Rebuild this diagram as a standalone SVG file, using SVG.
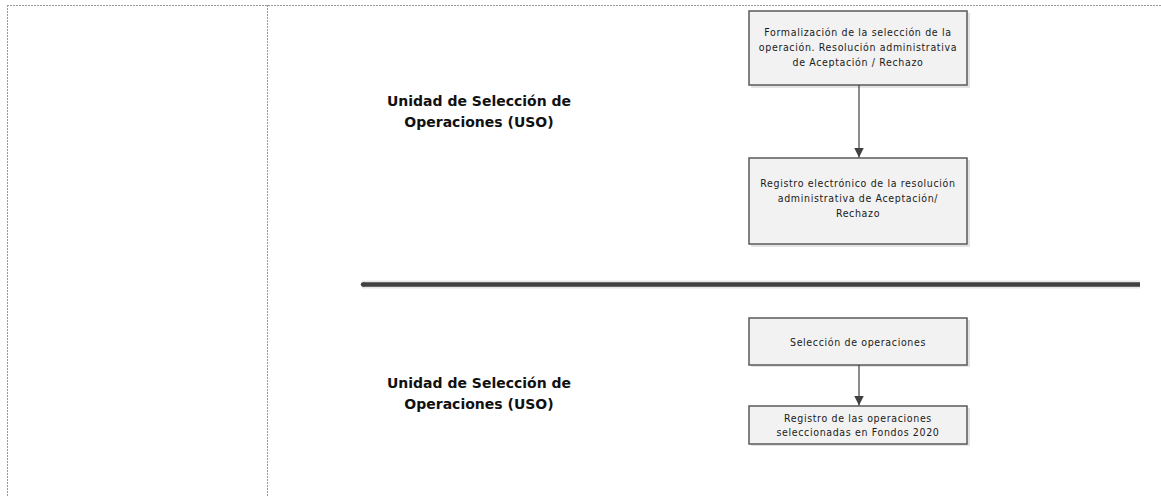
<svg xmlns="http://www.w3.org/2000/svg" width="1161" height="496" viewBox="0 0 1161 496">
<style>
.frame{stroke:#9a9a9a;stroke-width:1;stroke-dasharray:2 1;fill:none}
.box{fill:#f2f2f2;stroke:#5a5a5a;stroke-width:1.5}
.shadow{fill:#e4e4e4;stroke:none}
.t{font-family:"DejaVu Sans Condensed","DejaVu Sans",sans-serif;font-size:10.5px;letter-spacing:0.65px;fill:#1a1a1a;text-anchor:middle}
.lbl{font-family:"DejaVu Sans",sans-serif;font-weight:bold;font-size:14px;fill:#111;text-anchor:middle}
.conn{stroke:#404040;stroke-width:1.2;fill:none}
</style>
<defs>
<marker id="ah" viewBox="0 0 10 10" refX="10" refY="5" markerWidth="10" markerHeight="10" markerUnits="userSpaceOnUse" orient="auto">
<path d="M0,0 L10,5 L0,10 Z" fill="#404040"/>
</marker>
</defs>
<rect width="1161" height="496" fill="#ffffff"/>
<g id="frame">
<line class="frame" x1="7" y1="5.5" x2="1161" y2="5.5"/>
<line class="frame" x1="7.5" y1="5" x2="7.5" y2="496"/>
<line class="frame" x1="267.5" y1="5" x2="267.5" y2="496"/>
</g>
<g id="separator">
<line x1="362" y1="284.5" x2="1140" y2="284.5" stroke="#e6e6e6" stroke-width="8"/>
<line x1="363" y1="284.5" x2="1140" y2="284.5" stroke="#404040" stroke-width="4.5"/>
<circle cx="363" cy="284.5" r="2.25" fill="#404040"/>
</g>
<g id="lane1-label">
<text class="lbl" x="479" y="106">Unidad de Selección de</text>
<text class="lbl" x="479" y="127">Operaciones (USO)</text>
</g>
<g id="lane2-label">
<text class="lbl" x="479" y="388">Unidad de Selección de</text>
<text class="lbl" x="479" y="409">Operaciones (USO)</text>
</g>
<g id="n1">
<rect class="shadow" x="751" y="13" width="219" height="75"/>
<rect class="box" x="749" y="11" width="218" height="74"/>
<text class="t" x="858" y="36">Formalización de la selección de la</text>
<text class="t" x="858" y="51">operación. Resolución administrativa</text>
<text class="t" x="858" y="66">de Aceptación / Rechazo</text>
</g>
<g id="n2">
<rect class="shadow" x="751" y="160" width="219" height="87"/>
<rect class="box" x="749" y="158" width="218" height="86"/>
<text class="t" x="858" y="187">Registro electrónico de la resolución</text>
<text class="t" x="858" y="202">administrativa de Aceptación/</text>
<text class="t" x="858" y="217">Rechazo</text>
</g>
<g id="n3">
<rect class="shadow" x="751" y="320" width="219" height="47"/>
<rect class="box" x="749" y="318" width="218" height="47"/>
<text class="t" x="858" y="345.5">Selección de operaciones</text>
</g>
<g id="n4">
<rect class="shadow" x="751" y="408" width="219" height="38"/>
<rect class="box" x="749" y="406" width="218" height="38"/>
<text class="t" x="858" y="421.5">Registro de las operaciones</text>
<text class="t" x="858" y="435.5">seleccionadas en Fondos 2020</text>
</g>
<g id="connectors">
<line class="conn" x1="859" y1="85" x2="859" y2="157.5" marker-end="url(#ah)"/>
<line class="conn" x1="859" y1="365" x2="859" y2="405.5" marker-end="url(#ah)"/>
</g>
</svg>
